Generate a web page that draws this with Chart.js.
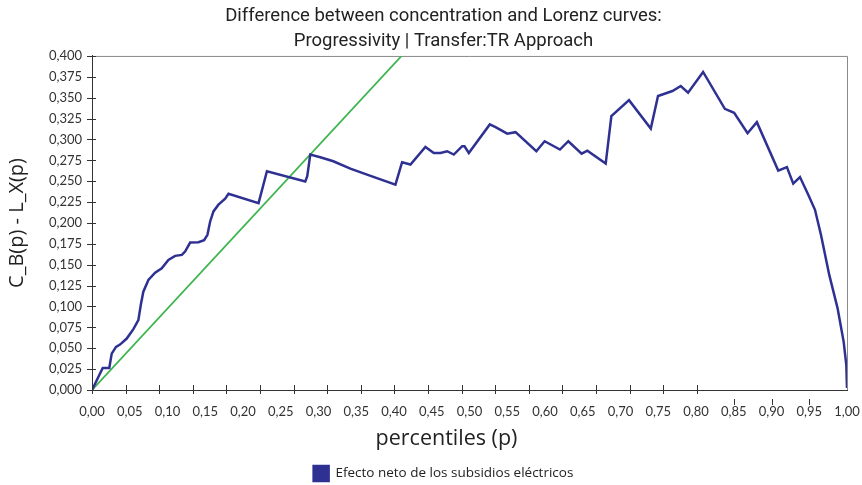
<!DOCTYPE html>
<html><head><meta charset="utf-8">
<script src="https://cdn.jsdelivr.net/npm/chart.js@4.4.1/dist/chart.umd.min.js"></script>
<style>html,body{margin:0;padding:0;background:#fff}#wrap{width:862px;height:485px;position:relative}</style>
</head><body><div id="wrap"><canvas id="c"></canvas></div>
<script>
// Percentile positions (x) of the blue curve
const percentiles = [0, 0.0142, 0.0229, 0.0261, 0.0318, 0.0371, 0.046, 0.0548, 0.0614, 0.0646, 0.068, 0.0747, 0.0836, 0.0924, 0.1012, 0.1101, 0.119, 0.1233, 0.13, 0.141, 0.1485, 0.1529, 0.1565, 0.1609, 0.1675, 0.1764, 0.1808, 0.2206, 0.2317, 0.2825, 0.2851, 0.2891, 0.3024, 0.3196, 0.3422, 0.3643, 0.4019, 0.4107, 0.4218, 0.4416, 0.4527, 0.4615, 0.4704, 0.4792, 0.4903, 0.4934, 0.4991, 0.5269, 0.5345, 0.55, 0.561, 0.5885, 0.5995, 0.6198, 0.6309, 0.6485, 0.6561, 0.6804, 0.6879, 0.7113, 0.7401, 0.7497, 0.7688, 0.7798, 0.7895, 0.8094, 0.8382, 0.8505, 0.8683, 0.8806, 0.9089, 0.9204, 0.9288, 0.9377, 0.9487, 0.9576, 0.9655, 0.9765, 0.9876, 0.9956, 0.9991, 1.0];
// C_B(p) - L_X(p) values
const diffValues = [0, 0.0264, 0.0264, 0.0436, 0.0517, 0.0544, 0.0616, 0.0729, 0.0837, 0.1017, 0.1177, 0.1318, 0.1405, 0.1457, 0.1558, 0.1606, 0.1618, 0.1658, 0.1766, 0.1769, 0.1793, 0.1858, 0.2018, 0.2138, 0.2219, 0.229, 0.235, 0.2238, 0.2619, 0.2498, 0.2559, 0.2819, 0.2787, 0.2739, 0.2651, 0.2579, 0.2459, 0.2727, 0.27, 0.291, 0.2838, 0.2838, 0.2859, 0.2819, 0.2919, 0.2919, 0.2838, 0.318, 0.3147, 0.307, 0.3087, 0.2859, 0.2979, 0.2879, 0.2979, 0.283, 0.2866, 0.2711, 0.3279, 0.3471, 0.3131, 0.352, 0.358, 0.364, 0.356, 0.3808, 0.3367, 0.332, 0.3075, 0.3207, 0.2627, 0.267, 0.2471, 0.255, 0.2339, 0.2158, 0.1858, 0.1378, 0.0977, 0.0577, 0.0297, 0.0024];
// Green reference line
const refX = [0, 0.41];
const refY = [0, 0.4];
// Tick values and labels
const xTickValues = [0,0.05,0.1,0.15,0.2,0.25,0.3,0.35,0.4,0.45,0.5,0.55,0.6,0.65,0.7,0.75,0.8,0.85,0.9,0.95,1];
const xTickLabels = ['0,00','0,05','0,10','0,15','0,20','0,25','0,30','0,35','0,40','0,45','0,50','0,55','0,60','0,65','0,70','0,75','0,80','0,85','0,90','0,95','1,00'];
const yTickValues = [0,0.025,0.05,0.075,0.1,0.125,0.15,0.175,0.2,0.225,0.25,0.275,0.3,0.325,0.35,0.375,0.4];
const yTickLabels = ['0,000','0,025','0,050','0,075','0,100','0,125','0,150','0,175','0,200','0,225','0,250','0,275','0,300','0,325','0,350','0,375','0,400'];
const lowerMarkValues = [0.85, 0.9, 0.95];
const upperMarkCount = 19, upperMarkStep = 0.0445;

const blue = '#2E3192', green = '#3DB54F', axisCol = '#333333';

const tickPlugin = {
  id: 'tickMarks',
  afterLayout(chart) {
    if (chart.legend) { chart.legend.left += 20; chart.legend.right += 20; chart.legend.top += 6; chart.legend.bottom += 6; }
    if (chart.titleBlock) { chart.titleBlock.left += 20; chart.titleBlock.right += 20; }
    const xs = chart.scales.x;
    if (xs && !xs._titleShifted) {
      const orig = xs.drawTitle;
      xs.drawTitle = function () { this.left -= 23; this.right -= 23; orig.call(this); this.left += 23; this.right += 23; };
      xs._titleShifted = true;
    }
  },
  beforeDatasetsDraw(chart) {
    const {ctx, chartArea: a} = chart;
    ctx.save();
    ctx.strokeStyle = '#8a8a8a'; ctx.lineWidth = 1;
    ctx.beginPath();
    ctx.moveTo(a.left, a.top + 0.5); ctx.lineTo(a.right + 0.5, a.top + 0.5); ctx.lineTo(a.right + 0.5, a.bottom);
    ctx.stroke();
    ctx.restore();
  },
  afterDatasetsDraw(chart) {
    const {ctx, chartArea: a, scales} = chart;
    const xs = scales.x, ys = scales.y;
    ctx.save();
    ctx.strokeStyle = axisCol; ctx.lineWidth = 1;
    ctx.beginPath();
    yTickValues.forEach(v => {
      const py = Math.round(ys.getPixelForValue(v)) + 0.5;
      ctx.moveTo(a.left - 5, py); ctx.lineTo(a.left + 4, py);
    });
    for (let k = 0; k < upperMarkCount; k++) {
      const px = Math.round(xs.getPixelForValue(k * upperMarkStep)) + 0.5;
      ctx.moveTo(px, a.bottom - 5); ctx.lineTo(px, a.bottom + 4);
    }
    lowerMarkValues.forEach(v => {
      const px = Math.round(xs.getPixelForValue(v)) + 0.5;
      ctx.moveTo(px, a.bottom + 9); ctx.lineTo(px, a.bottom + 15);
    });
    ctx.stroke();
    ctx.restore();
  }
};

new Chart(document.getElementById('c'), {
  type: 'line',
  data: {
    datasets: [
      {
        label: 'Efecto neto de los subsidios eléctricos',
        data: percentiles.map((p, i) => ({x: p, y: diffValues[i]})),
        borderColor: blue, backgroundColor: blue, borderWidth: 2.5,
        pointRadius: 0, tension: 0, fill: false
      },
      {
        label: 'ref',
        data: refX.map((p, i) => ({x: p, y: refY[i]})),
        borderColor: green, backgroundColor: green, borderWidth: 1.8,
        pointRadius: 0, tension: 0, fill: false
      }
    ]
  },
  options: {
    responsive: true, maintainAspectRatio: false, animation: false,
    layout: {padding: {left: 0, right: 15, top: 0, bottom: 0}},
    plugins: {
      title: {
        display: true,
        text: ['Difference between concentration and Lorenz curves:', 'Progressivity | Transfer:TR Approach'],
        color: '#222', font: {family: 'Roboto', size: 18.5, weight: 'normal', lineHeight: 1.35},
        padding: {top: 4, bottom: 2}
      },
      legend: {
        position: 'bottom',
        labels: {
          filter: item => item.datasetIndex === 0,
          boxWidth: 15, boxHeight: 15, color: '#222',
          font: {family: 'Open Sans', size: 13.5}, padding: 2
        }
      },
      tooltip: {enabled: false}
    },
    scales: {
      x: {
        type: 'linear', min: 0, max: 1,
        afterBuildTicks: s => { s.ticks = xTickValues.map(v => ({value: v})); },
        afterFit: s => { s.height = 68; s.paddingRight = 0; s.paddingLeft = 0; },
        ticks: {callback: (v, i) => xTickLabels[i], color: '#333', font: {family: 'Lato', size: 13}, padding: 14, maxRotation: 0, autoSkip: false},
        grid: {display: false, drawTicks: false},
        border: {display: true, color: axisCol, width: 1},
        title: {display: true, text: 'percentiles (p)', color: '#222', font: {family: 'Open Sans', size: 21.5}, padding: {top: 0, bottom: 6}}
      },
      y: {
        min: 0, max: 0.4,
        afterBuildTicks: s => { s.ticks = yTickValues.map(v => ({value: v})); },
        afterFit: s => { s.width = 92; },
        ticks: {callback: (v, i) => yTickLabels[i], color: '#333', font: {family: 'Lato', size: 13}, padding: 10, autoSkip: false},
        grid: {display: false, drawTicks: false},
        border: {display: true, color: axisCol, width: 1},
        title: {display: true, text: 'C_B(p) - L_X(p)', color: '#222', font: {family: 'Open Sans', size: 20}, padding: {top: 5, bottom: 0}}
      }
    }
  },
  plugins: [tickPlugin]
});
</script>
</body></html>
